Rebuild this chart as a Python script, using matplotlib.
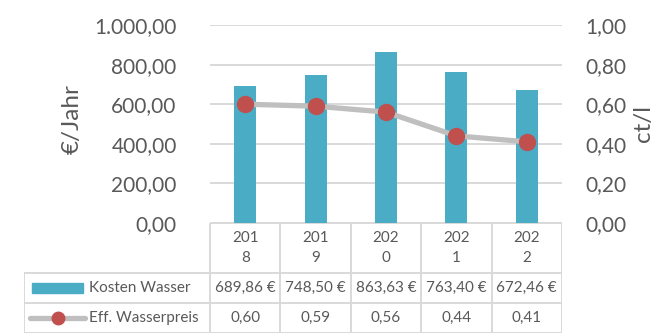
import matplotlib.pyplot as plt
import numpy as np

# data
years = ["2018", "2019", "2020", "2021", "2022"]
kosten_wasser = [689.86, 748.50, 863.63, 763.40, 672.46]
eff_wasserpreis = [0.60, 0.59, 0.56, 0.44, 0.41]
left_ticks = [0, 200, 400, 600, 800, 1000]
right_ticks = [0.0, 0.2, 0.4, 0.6, 0.8, 1.0]

BAR_COLOR = "#4BACC6"
LINE_COLOR = "#BFBFBF"
MARKER_COLOR = "#C0504D"
TEXT_COLOR = "#595959"
GRID_COLOR = "#D9D9D9"

plt.rcParams['font.family'] = ['Lato', 'DejaVu Sans']

W, H = 671, 336


def de_fmt(v, dec=2):
    s = f"{v:,.{dec}f}"
    return s.replace(",", "X").replace(".", ",").replace("X", ".")


fig = plt.figure(figsize=(W / 100, H / 100), dpi=100)

# plot area in pixels
pl, pr, pt, pb = 210, 562, 25, 223
ax = fig.add_axes([pl / W, 1 - pb / H, (pr - pl) / W, (pb - pt) / H])
x = np.arange(len(years))
ax.bar(x, kosten_wasser, width=0.31, color=BAR_COLOR, zorder=2)
ax.set_xlim(-0.5, len(years) - 0.5)
ax.set_ylim(0, 1000)
ax.set_yticks(left_ticks)
ax.set_yticklabels([de_fmt(v) for v in left_ticks])
ax.set_xticks([])
ax.tick_params(axis='y', length=0, pad=24, labelsize=15, labelcolor=TEXT_COLOR)
ax.grid(axis='y', color=GRID_COLOR, linewidth=1.4)
ax.set_axisbelow(True)
for s in ax.spines.values():
    s.set_visible(False)

ax2 = ax.twinx()
ax2.plot(x, eff_wasserpreis, color=LINE_COLOR, linewidth=3.8,
         marker='o', markersize=11.5, markerfacecolor=MARKER_COLOR,
         markeredgecolor=MARKER_COLOR, zorder=3)
ax2.set_ylim(0, 1.0)
ax2.set_yticks(right_ticks)
ax2.set_yticklabels([de_fmt(v) for v in right_ticks])
ax2.tick_params(axis='y', length=0, pad=17, labelsize=15, labelcolor=TEXT_COLOR)
for s in ax2.spines.values():
    s.set_visible(False)

fig.text(72 / W, 1 - 119 / H, "€/Jahr", rotation=90, ha='center', va='center',
         fontsize=17.5, color=TEXT_COLOR)
fig.text(643 / W, 1 - 123 / H, "ct/l", rotation=90, ha='center', va='center',
         fontsize=17.5, color=TEXT_COLOR)

# data table below the plot
tl, tb = 24, 333
col_w = (pr - pl) / len(years)
tab = fig.add_axes([tl / W, 1 - tb / H, (pr - tl) / W, (tb - pb) / H])
x_left = -0.5 - (pl - tl) / col_w
tab.set_xlim(x_left, len(years) - 0.5)
tab.set_ylim(0, tb - pb)
tab.axis('off')


def px_x(p):
    return x_left + (p - tl) / col_w


def px_y(p):
    return tb - p


lc = dict(color=GRID_COLOR, linewidth=1.4)
xr = len(years) - 0.5
top = px_y(pb)
r1 = px_y(273)
r2 = px_y(303)
tab.plot([-0.5, xr], [top, top], **lc)
tab.plot([x_left, xr], [r1, r1], **lc)
tab.plot([x_left, xr], [r2, r2], **lc)
tab.plot([x_left, xr], [0.5, 0.5], **lc)
for b in np.arange(-0.5, len(years), 1.0):
    tab.plot([b, b], [0, top], **lc)
tab.plot([x_left, x_left], [0, r1], **lc)

fs = 11
for i, yr in enumerate(years):
    tab.text(i, (top + r1) / 2, yr[:3] + "\n" + yr[3:], ha='center', va='center',
             fontsize=fs, color=TEXT_COLOR, linespacing=1.5)
    tab.text(i, (r1 + r2) / 2, de_fmt(kosten_wasser[i]) + " €", ha='center',
             va='center', fontsize=fs, color=TEXT_COLOR)
    tab.text(i, r2 / 2, de_fmt(eff_wasserpreis[i]), ha='center', va='center',
             fontsize=fs, color=TEXT_COLOR)

# legend keys
tab.add_patch(plt.Rectangle((px_x(32), px_y(293)), px_x(83) - px_x(32), 10,
                            color=BAR_COLOR))
tab.text(px_x(89), (r1 + r2) / 2, "Kosten Wasser", ha='left', va='center',
         fontsize=fs, color=TEXT_COLOR)
tab.plot([px_x(30), px_x(85)], [px_y(318), px_y(318)], color=LINE_COLOR,
         linewidth=3.8, solid_capstyle='round')
tab.plot([px_x(58)], [px_y(318)], 'o', color=MARKER_COLOR, markersize=9)
tab.text(px_x(89), r2 / 2, "Eff. Wasserpreis", ha='left', va='center',
         fontsize=fs, color=TEXT_COLOR)

fig.savefig("out.png", dpi=100)
